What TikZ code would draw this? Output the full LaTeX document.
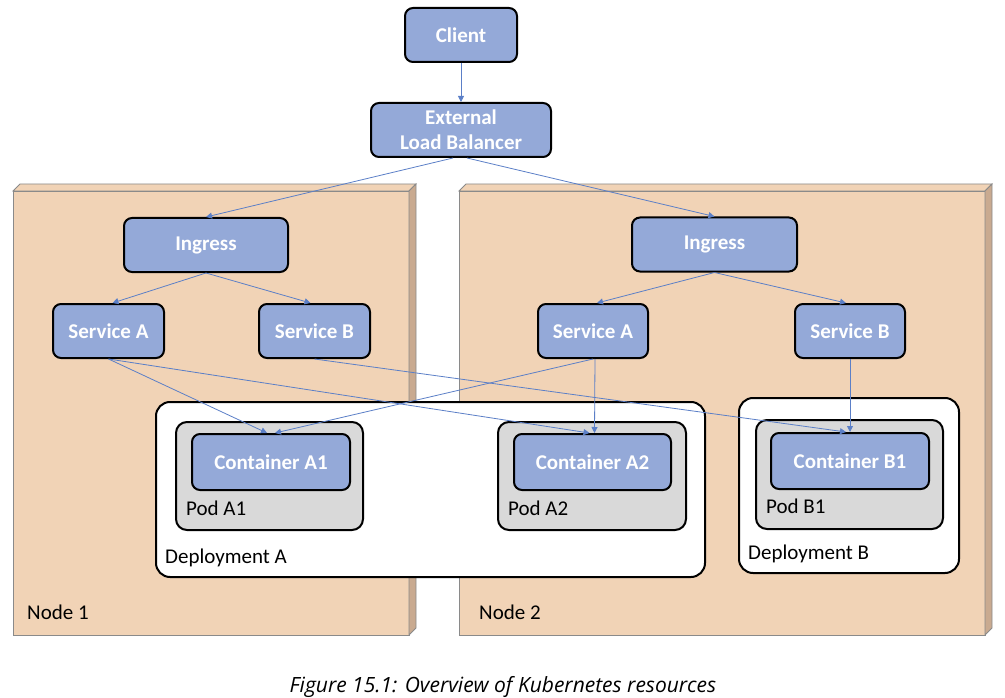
\documentclass[tikz,border=0pt]{standalone}
\usepackage{fontspec}
\setmainfont{Carlito}
\newfontfamily\capfont{Open Sans}
\usetikzlibrary{arrows.meta}
\definecolor{boxblue}{HTML}{94A9D8}
\definecolor{peach}{HTML}{F1D3B6}
\definecolor{peachside}{HTML}{C9AA90}
\definecolor{podgray}{HTML}{D9D9D9}
\definecolor{arrowblue}{HTML}{5B7FC7}
\definecolor{slabline}{HTML}{8A8A8A}
\tikzset{
  x=1pt, y=-1pt,
  bluebox/.style={draw=black, line width=2pt, fill=boxblue, rounded corners=8pt,
    text=white, font=\fontsize{21}{25}\selectfont\bfseries, align=center,
    inner sep=0pt, minimum height=54pt},
  slabfront/.style={draw=slabline, line width=0.8pt, fill=peach},
  slabside/.style={draw=slabline, line width=0.8pt, fill=peachside},
  deploybox/.style={draw=black, line width=2pt, fill=white, rounded corners=14pt},
  podbox/.style={draw=black, line width=2pt, fill=podgray, rounded corners=11pt},
  lbl/.style={font=\fontsize{21}{25}\selectfont, text=black, inner sep=0pt, anchor=base west},
  conn/.style={draw=arrowblue, line width=0.8pt, -{Triangle[length=6pt,width=6pt]}},
}
\begin{document}
\begin{tikzpicture}
\useasboundingbox (0,0) rectangle (1005,698);
% Node 1 slab
\draw[slabfront] (13,191) rectangle (409,635);
\draw[slabfront] (13,191) -- (20,184) -- (416,184) -- (409,191) -- cycle;
\draw[slabside] (409,191) -- (416,184) -- (416,628) -- (409,635) -- cycle;
\node[lbl] (node1) at (27,619) {Node 1};
% Node 2 slab
\draw[slabfront] (459,191) rectangle (985,635);
\draw[slabfront] (459,191) -- (466,184) -- (992,184) -- (985,191) -- cycle;
\draw[slabside] (985,191) -- (992,184) -- (992,628) -- (985,635) -- cycle;
\node[lbl] (node2) at (479,619) {Node 2};
% top boxes
\node[bluebox, minimum width=112pt] (client) at (461,35) {Client};
\node[bluebox, minimum width=180pt] (elb) at (461,130) {External\\Load Balancer};
% node 1 contents
\node[bluebox, minimum width=164pt] (ingL) at (206,245) {Ingress};
\node[bluebox, minimum width=111pt] (svcAL) at (108.5,331) {Service A};
\node[bluebox, minimum width=111pt] (svcBL) at (314.5,331) {Service B};
% node 2 contents
\node[bluebox, minimum width=165pt] (ingR) at (714.5,244.5) {Ingress};
\node[bluebox, minimum width=110pt] (svcAR) at (593,331) {Service A};
\node[bluebox, minimum width=110pt] (svcBR) at (850,331) {Service B};
% deployments
\draw[deploybox] (156,402) rectangle (705,577);
\node[lbl] (depA) at (165,563) {Deployment A};
\draw[podbox] (176,422) rectangle (363,530);
\node[lbl] (podA1) at (186,515) {Pod A1};
\draw[podbox] (498,422) rectangle (686,530);
\node[lbl] (podA2) at (508,515) {Pod A2};
\draw[deploybox] (739,398) rectangle (959,573);
\node[lbl] (depB) at (748,559) {Deployment B};
\draw[podbox] (756,420) rectangle (943,529);
\node[lbl] (podB1) at (766,513) {Pod B1};
\node[bluebox, minimum width=158pt, minimum height=56pt] (ca1) at (271,462) {Container A1};
\node[bluebox, minimum width=157pt, minimum height=56pt] (ca2) at (592.5,462) {Container A2};
\node[bluebox, minimum width=158pt, minimum height=56pt] (cb1) at (850,461) {Container B1};
% connectors
\draw[conn] (client.south) -- (elb.north);
\draw[conn] ([xshift=-8pt]elb.south) -- (ingL.north);
\draw[conn] ([xshift=6pt]elb.south) -- (ingR.north);
\draw[conn] (ingL.south) -- ([xshift=4pt]svcAL.north);
\draw[conn] (ingL.south) -- ([xshift=-4pt]svcBL.north);
\draw[conn] (ingR.south) -- ([xshift=4pt]svcAR.north);
\draw[conn] (ingR.south) -- ([xshift=-4pt]svcBR.north);
\draw[conn] (svcAL.south) -- ([xshift=-4pt]ca1.north);
\draw[conn] (svcAL.south) -- ([xshift=-3pt]ca2.north);
\draw[conn] (svcBL.south) -- ([xshift=-4pt]cb1.north);
\draw[conn] (svcAR.south) -- ([xshift=4pt]ca1.north);
\draw[conn] ([xshift=2pt]svcAR.south) -- ([xshift=2pt]ca2.north);
\draw[conn] (svcBR.south) -- (cb1.north);
% caption
\node[font=\capfont\itshape\fontsize{21}{25}\selectfont, inner sep=0pt, anchor=base] (cap) at (503,692) {Figure 15.1: Overview of Kubernetes resources};
\end{tikzpicture}
\end{document}
